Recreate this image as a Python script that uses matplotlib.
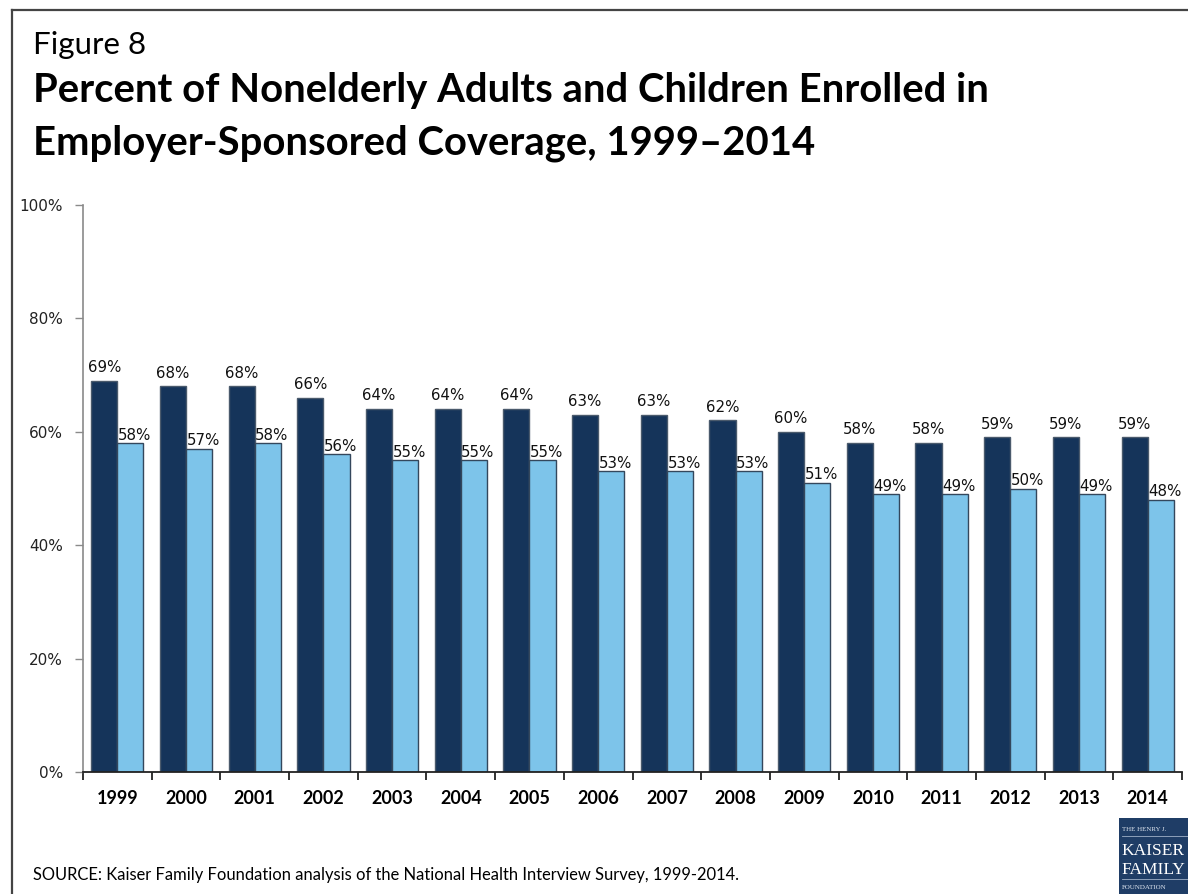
import matplotlib
matplotlib.use("Agg")
import matplotlib.pyplot as plt
import numpy as np
from matplotlib.lines import Line2D
from matplotlib.patches import Rectangle
from matplotlib.ticker import FixedLocator, FuncFormatter

YEARS = ["1999", "2000", "2001", "2002", "2003", "2004", "2005", "2006",
         "2007", "2008", "2009", "2010", "2011", "2012", "2013", "2014"]
ADULTS = [69, 68, 68, 66, 64, 64, 64, 63, 63, 62, 60, 58, 58, 59, 59, 59]
CHILDREN = [58, 57, 58, 56, 55, 55, 55, 53, 53, 53, 51, 49, 49, 50, 49, 48]

DARK = "#15345a"
LIGHT = "#7dc4ea"
EDGE = "#34475c"

W, H = 1188, 894
fig = plt.figure(figsize=(W / 100, H / 100), dpi=100)
fig.patch.set_facecolor("white")


def fx(px):
    return px / W


def fy(py):
    return 1 - py / H


# outer frame (top and left rules)
fig.add_artist(Line2D([fx(12), 1.0], [fy(10), fy(10)], color="#444444", lw=1.6))
fig.add_artist(Line2D([fx(12), fx(12)], [fy(10), 0.0], color="#444444", lw=1.6))

# heading
fig.text(fx(33), fy(54), "Figure 8", fontfamily="Lato", fontsize=22.5,
         va="baseline", ha="left", color="black")
fig.text(fx(33), fy(102), "Percent of Nonelderly Adults and Children Enrolled in",
         fontfamily="Lato", fontweight="bold", fontsize=28.8, va="baseline", ha="left")
fig.text(fx(33), fy(155), "Employer-Sponsored Coverage, 1999\u20132014",
         fontfamily="Lato", fontweight="bold", fontsize=28.8, va="baseline", ha="left")

ax = fig.add_axes([fx(83), fy(772), fx(1182) - fx(83), fy(205) - fy(772)])

x = np.arange(len(YEARS))
bw = 0.38
ax.bar(x - bw / 2, ADULTS, width=bw, color=DARK, edgecolor="#4a5a6c", linewidth=1)
ax.bar(x + bw / 2, CHILDREN, width=bw, color=LIGHT, edgecolor=EDGE, linewidth=1)

for i in range(len(YEARS)):
    ax.text(x[i] - bw / 2, ADULTS[i] + 1.0, f"{ADULTS[i]}%", ha="center",
            va="bottom", fontsize=10.8, color="#111111")
    ax.text(x[i] + bw / 2 + 0.06, CHILDREN[i] + 0.1, f"{CHILDREN[i]}%", ha="center",
            va="bottom", fontsize=10.8, color="#111111")

ax.set_xlim(-0.5, len(YEARS) - 0.5)
ax.set_ylim(0, 100)

ax.set_yticks(np.arange(0, 101, 20))
ax.yaxis.set_major_formatter(FuncFormatter(lambda v, _: f"{int(v)}%"))
ax.tick_params(axis="y", length=6, width=1, color="#8a8a8a", pad=8.5,
               labelsize=11, labelcolor="#222222")

ax.set_xticks(x)
ax.set_xticklabels(YEARS, fontfamily="Lato", fontweight="bold", fontsize=13)
ax.tick_params(axis="x", length=0, pad=13)
ax.xaxis.set_minor_locator(FixedLocator(np.arange(-0.5, len(YEARS), 1.0)))
ax.tick_params(axis="x", which="minor", length=6, width=1.3, color="#222222")

for side in ("top", "right"):
    ax.spines[side].set_visible(False)
ax.spines["left"].set_color("#8a8a8a")
ax.spines["left"].set_linewidth(1.2)
ax.spines["bottom"].set_color("#222222")
ax.spines["bottom"].set_linewidth(1.3)

fig.text(fx(33), fy(880), "SOURCE: Kaiser Family Foundation analysis of the National "
         "Health Interview Survey, 1999-2014.", fontfamily="Lato", fontsize=11.9,
         va="baseline", ha="left")

# foundation badge, bottom right
fig.add_artist(Rectangle((fx(1119), 0), fx(75), fy(818), transform=fig.transFigure,
                         facecolor="#1f3d66", edgecolor="none"))
serif = "Liberation Serif"
fig.text(fx(1122), fy(831), "THE HENRY J.", fontfamily=serif, fontsize=5,
         color="#dfe6f0", va="baseline")
fig.add_artist(Line2D([fx(1122), 1.0], [fy(836), fy(836)], color="#9fb0c8", lw=0.6))
fig.text(fx(1121), fy(855), "KAISER", fontfamily=serif, fontsize=12.5,
         color="white", va="baseline")
fig.text(fx(1121), fy(874), "FAMILY", fontfamily=serif, fontsize=12.5,
         color="white", va="baseline")
fig.add_artist(Line2D([fx(1122), 1.0], [fy(879), fy(879)], color="#9fb0c8", lw=0.6))
fig.text(fx(1122), fy(889), "FOUNDATION", fontfamily=serif, fontsize=5,
         color="#dfe6f0", va="baseline")

fig.savefig("out.png", dpi=100)
